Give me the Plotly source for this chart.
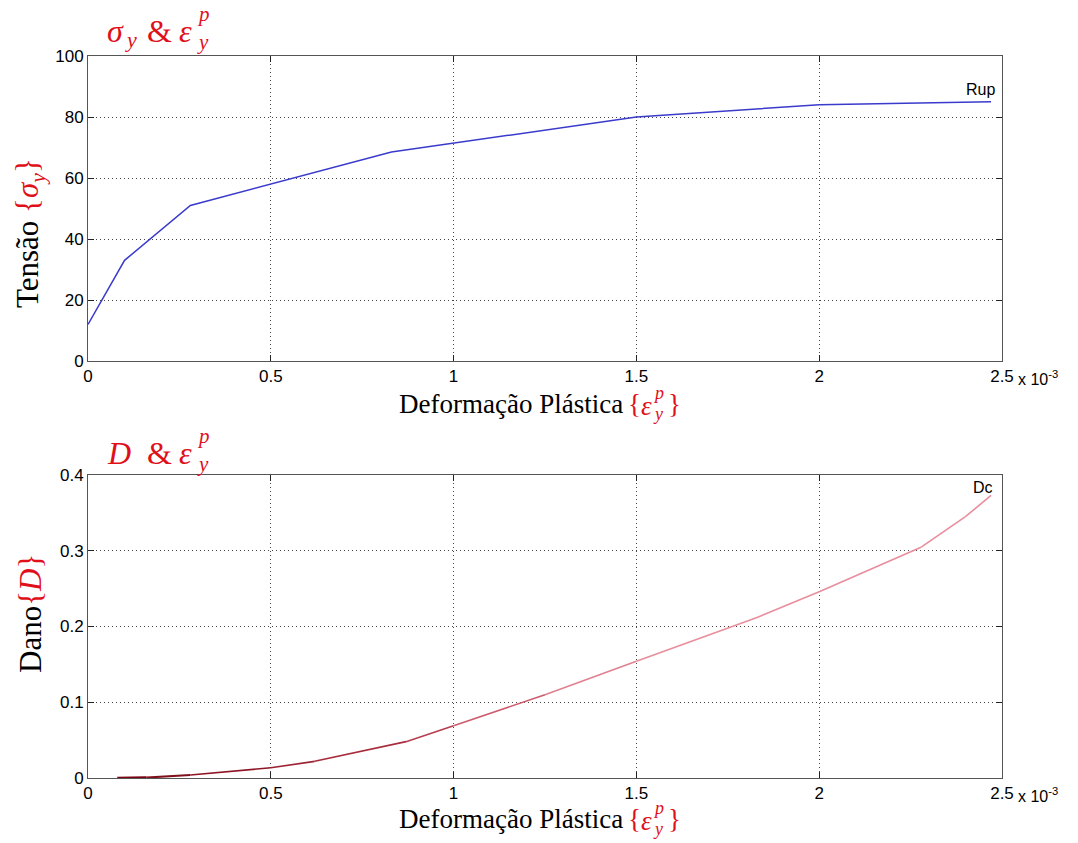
import plotly.graph_objects as go

W, H = 1078, 843

# Stress vs plastic strain (strain in units of 1e-3 for reading, scaled below)
strain_sigma = [0.0, 0.1, 0.28, 0.83, 1.5, 2.0, 2.47]
sigma_y = [12, 33, 51, 68.5, 80, 84, 85]

# Damage vs plastic strain
strain_damage = [0.08, 0.16, 0.28, 0.5, 0.62, 0.87, 1.0, 1.25, 1.5, 1.83, 2.0, 2.28, 2.4, 2.47]
damage = [0.0, 0.0005, 0.004, 0.0135, 0.022, 0.048, 0.069, 0.11, 0.154, 0.212, 0.246, 0.305, 0.345, 0.373]

x_ticks = [0, 0.5, 1, 1.5, 2, 2.5]
x_ticklabels = ["0", "0.5", "1", "1.5", "2", "2.5"]
sigma_ticks = [0, 20, 40, 60, 80, 100]
damage_ticks = [0, 0.1, 0.2, 0.3, 0.4]
damage_ticklabels = ["0", "0.1", "0.2", "0.3", "0.4"]

SCALE = 1e-3
RED = "#e0101a"
SERIF = "Liberation Serif, Times New Roman, serif"
SANS = "Liberation Sans, Arial, sans-serif"


def px_x(p):
    return p / W


def px_y(p):
    return 1 - p / H


fig = go.Figure()

fig.add_trace(go.Scatter(
    x=[v * SCALE for v in strain_sigma], y=sigma_y, mode="lines",
    line=dict(color="#3a3acc", width=1.5), xaxis="x", yaxis="y",
    showlegend=False, hoverinfo="x+y",
))

# Damage curve drawn segment by segment, shading from dark red to pink
seg_colors = ["#7a0010", "#80101c", "#8e1626", "#9c2232", "#a82c3c", "#b63e4e",
              "#cc5c6c", "#e08090", "#e88e9c", "#e88e9c", "#e88e9c", "#e88e9c", "#e88e9c"]
seg_widths = [2.5, 2, 1.6, 1.6, 1.6, 1.6, 1.6, 1.6, 1.6, 1.6, 1.6, 1.6, 1.6]
for i in range(len(strain_damage) - 1):
    fig.add_trace(go.Scatter(
        x=[strain_damage[i] * SCALE, strain_damage[i + 1] * SCALE],
        y=[damage[i], damage[i + 1]], mode="lines",
        line=dict(color=seg_colors[i], width=seg_widths[i]),
        xaxis="x2", yaxis="y2", showlegend=False, hoverinfo="x+y",
    ))

axis_common = dict(
    showline=True, linecolor="#555555", linewidth=1, mirror="ticks",
    ticks="inside", ticklen=6, tickcolor="#222222",
    showgrid=True, gridcolor="#444444", griddash="1px,3px", gridwidth=1,
    zeroline=False, automargin=False,
    tickfont=dict(family=SANS, size=17, color="black"),
)

x_dom = [px_x(88), px_x(1002)]
fig.update_layout(
    width=W, height=H, margin=dict(l=0, r=0, t=0, b=0, autoexpand=False),
    paper_bgcolor="white", plot_bgcolor="white",
    xaxis=dict(domain=x_dom, anchor="y", range=[0, 2.5 * SCALE],
               tickvals=[t * SCALE for t in x_ticks], ticktext=x_ticklabels, **axis_common),
    yaxis=dict(domain=[px_y(361), px_y(56)], anchor="x", range=[0, 100],
               tickvals=sigma_ticks, **axis_common),
    xaxis2=dict(domain=x_dom, anchor="y2", range=[0, 2.5 * SCALE],
                tickvals=[t * SCALE for t in x_ticks], ticktext=x_ticklabels, **axis_common),
    yaxis2=dict(domain=[px_y(778), px_y(475)], anchor="x2", range=[0, 0.4],
                tickvals=damage_ticks, ticktext=damage_ticklabels, **axis_common),
)

ann = []


def text(x, y, s, size, color="black", family=SERIF, xanchor="left", yanchor="middle", angle=0):
    ann.append(dict(x=px_x(x), y=px_y(y), xref="paper", yref="paper", text=s,
                    showarrow=False, xanchor=xanchor, yanchor=yanchor, textangle=angle,
                    font=dict(family=family, size=size, color=color)))


# Panel titles with stacked super/subscripts
text(105, 31, "<i>σ</i>", 32, RED)
text(123, 40, "<i>y</i>", 22, RED)
text(145, 31, "&", 32, RED)
text(177, 31, "<i>ε</i>", 32, RED)
text(195, 14, "<i>p</i>", 21, RED)
text(195, 42, "<i>y</i>", 21, RED)

text(105, 453, "<i>D</i>", 32, RED)
text(145, 453, "&", 32, RED)
text(177, 453, "<i>ε</i>", 32, RED)
text(195, 436, "<i>p</i>", 21, RED)
text(195, 464, "<i>y</i>", 21, RED)

# x-axis titles
for yb, ty in ((404, 378), (819, 795)):
    text(397, yb, "Deformação Plástica", 27, "black")
    text(626, yb, "{", 27, RED)
    text(639, yb + 2, "<i>ε</i>", 27, RED)
    text(651, yb - 11, "<i>p</i>", 18, RED)
    text(651, yb + 10, "<i>y</i>", 18, RED)
    text(666, yb, "}", 27, RED)
    text(1016, ty, "x 10<sup>-3</sup>", 16, "black", SANS)

# y-axis titles
text(30, 233, "Tensão <span style='color:%s'>{<i>σ<sub>y</sub></i>}</span>" % RED, 31,
     "black", SERIF, xanchor="center", angle=-90)
text(30, 614, "Dano<span style='color:%s'>{<i>D</i>}</span>" % RED, 31,
     "black", SERIF, xanchor="center", angle=-90)

# End-point labels
text(997, 90, "Rup", 16, "black", SANS, xanchor="right")
text(995, 487, "Dc", 16, "black", SANS, xanchor="right")

fig.update_layout(annotations=ann)
fig.write_html("out.html")
